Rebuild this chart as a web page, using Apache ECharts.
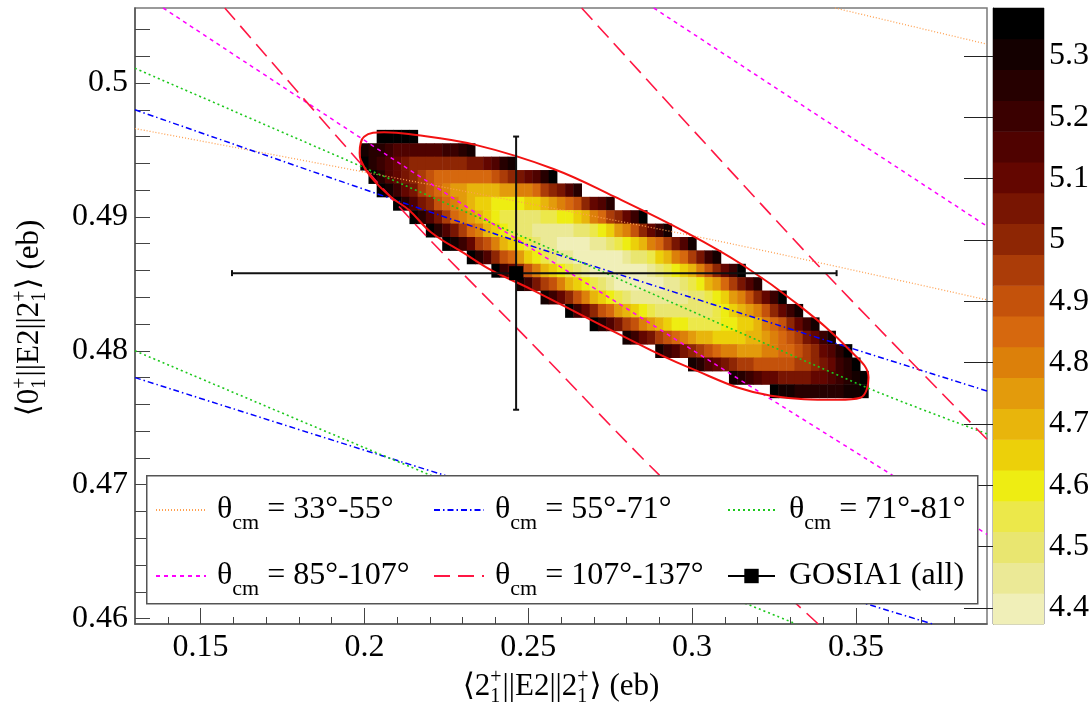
<!DOCTYPE html>
<html>
<head>
<meta charset="utf-8">
<script src="https://cdn.jsdelivr.net/npm/echarts@6/dist/echarts.min.js"></script>
<style>
html, body { margin: 0; padding: 0; background: #fff; }
#main { width: 1092px; height: 705px; }
</style>
</head>
<body>
<div id="main"></div>
<script>
var FONT = '"Liberation Serif", "DejaVu Serif", serif';

// axis ranges and ticks
var xMin = 0.13, xMax = 0.39;
var yMin = 0.4596, yMax = 0.5056;
var xMajor = [0.15, 0.2, 0.25, 0.3, 0.35];
var xMinor = [0.14, 0.16, 0.17, 0.18, 0.19, 0.21, 0.22, 0.23, 0.24, 0.26, 0.27, 0.28, 0.29,
              0.31, 0.32, 0.33, 0.34, 0.36, 0.37, 0.38];
var yLabels = [0.46, 0.47, 0.48, 0.49, 0.5];
var yTicks = [0.46, 0.462, 0.464, 0.466, 0.468, 0.47, 0.472, 0.474, 0.476, 0.478, 0.48, 0.482,
              0.484, 0.486, 0.488, 0.49, 0.492, 0.494, 0.496, 0.498, 0.5, 0.502, 0.504];

// colour scale (bottom -> top)
var zMin = 4.374, zMax = 5.378;
var zTicks = [4.4, 4.5, 4.6, 4.7, 4.8, 4.9, 5, 5.1, 5.2, 5.3];
var levelColors = ['#f0efb8', '#ebe996', '#e9e670', '#ece84a', '#eeed12', '#ecd00a', '#e8b50c',
                   '#e39b0c', '#dc800a', '#d6680e', '#c4520b', '#ab3c08', '#8e2604', '#781502',
                   '#630600', '#4f0200', '#3a0000', '#260000', '#140000', '#000000'];

// chi2 map: one string per row, one char per cell (0-9, a-j = colour level 0..19)
var cellW = 0.0025, cellH = 0.001, cellX0 = 0.2;
var rowY = [0.496, 0.495, 0.494, 0.493, 0.492, 0.491, 0.490, 0.489, 0.488, 0.487,
            0.486, 0.485, 0.484, 0.483, 0.482, 0.481, 0.480, 0.479, 0.478, 0.477];
var rowStart = [2, 0, 0, 1, 2, 4, 6, 8, 10, 13, 16, 19, 22, 25, 28, 32, 36, 40, 45, 50];
var rowLevels = [
  'jjjjj',
  'ihhgffffffgghi',
  'jhgfedcccccccddefhi',
  'jhfedcba9999999abcdefhj',
  'jigedba9877666677889bcdfh',
  'jhfdca9876554444556789acefh',
  'jhfdb9876543322233445689bcegj',
  'jhfdb98654322111112234578acegi',
  'jigeba865432110000112345689bdfi',
  'jhfca9754321100000012235689bdgi',
  'jgeca865432100000001234568acegj',
  'igdba865432100000011234679bdfh',
  'igeca86543211111112234578acegj',
  'jgeca9765432222222345678acegi',
  'jhfdba87654433334455689acegi',
  'igedba98766555566789abdegi',
  'igfdcba9887778899abcefhj',
  'ihfedcbbaaaaabbcdeghj',
  'ihgfeeddddeefghij',
  'jiihhhhhhiij'
];

// constraint bands, each one a pair of lines
var band33a = [[0.3436, 0.5056], [0.39, 0.5029]];
var band33b = [[0.13, 0.4966], [0.30, 0.4886], [0.39, 0.4838]];
var band55a = [[0.13, 0.4980], [0.2476, 0.4881], [0.39, 0.4770]];
var band55b = [[0.13, 0.4780], [0.2246, 0.4707], [0.3734, 0.4596]];
var band71a = [[0.13, 0.5011], [0.2476, 0.4886], [0.3529, 0.4773], [0.39, 0.4738]];
var band71b = [[0.13, 0.4800], [0.2203, 0.4707], [0.3318, 0.4596]];
var band85a = [[0.1386, 0.5056], [0.2423, 0.4890], [0.39, 0.4663]];
var band85b = [[0.2883, 0.5056], [0.39, 0.4893]];
var band107a = [[0.1574, 0.5056], [0.2142, 0.4898], [0.2509, 0.4806], [0.2901, 0.4707], [0.3385, 0.4596]];
var band107b = [[0.2663, 0.5056], [0.3376, 0.4866], [0.39, 0.4734]];

// 1 sigma contour
var contour = [
  [0.19855, 0.49478], [0.1999, 0.49599], [0.2060, 0.49632], [0.21353, 0.49619], [0.23392, 0.49538],
  [0.25774, 0.49358], [0.27645, 0.49149], [0.29859, 0.48879], [0.31558, 0.48639], [0.3326, 0.4834],
  [0.34791, 0.4801], [0.35385, 0.478], [0.35131, 0.4765], [0.34451, 0.47635], [0.32409, 0.47665],
  [0.29859, 0.4788], [0.27645, 0.4814], [0.25094, 0.48459], [0.2387, 0.48602], [0.23052, 0.48727],
  [0.22032, 0.48886], [0.21368, 0.4905], [0.20808, 0.49149], [0.20195, 0.49299], [0.19889, 0.49423],
  [0.19855, 0.49478]
];

// GOSIA1 result: x, y, x low, x high, y low, y high
var gosia = [0.2463, 0.4858, 0.1596, 0.3441, 0.4756, 0.4960];

var names = ['θcm = 33°-55°', 'θcm = 55°-71°', 'θcm = 71°-81°',
             'θcm = 85°-107°', 'θcm = 107°-137°', 'GOSIA1 (all)'];

var heatData = [];
rowLevels.forEach(function (s, r) {
  for (var i = 0; i < s.length; i++) {
    heatData.push([cellX0 + (rowStart[r] + i) * cellW, rowY[r], parseInt(s[i], 20)]);
  }
});

var chart = echarts.init(document.getElementById('main'));

function bandSeries(name, data, color, dash, width) {
  return {
    name: name, type: 'line', data: data, xAxisIndex: 0, yAxisIndex: 0,
    symbol: 'none', smooth: data.length > 2 ? 0.3 : false, clip: true, z: 3,
    itemStyle: { color: color, opacity: 0 },
    lineStyle: { color: color, type: dash, width: width }
  };
}

// text with stacked super/subscripts
var measureCtx = document.createElement('canvas').getContext('2d');
function textW(t, size) {
  measureCtx.font = size + 'px "Liberation Serif"';
  return measureCtx.measureText(t).width;
}
function titleChildren(parts, size, small) {
  var kids = [], x = 0;
  parts.forEach(function (p) {
    if (typeof p === 'string') {
      kids.push({ type: 'text', x: x, y: 0, style: { text: p, fontSize: size, fontFamily: FONT, fill: '#000', verticalAlign: 'middle' } });
      x += textW(p, size);
    } else {
      kids.push({ type: 'text', x: x, y: -size * 0.3, style: { text: p.sup, fontSize: small, fontFamily: FONT, fill: '#000', verticalAlign: 'middle' } });
      kids.push({ type: 'text', x: x, y: size * 0.32, style: { text: p.sub, fontSize: small, fontFamily: FONT, fill: '#000', verticalAlign: 'middle' } });
      x += Math.max(textW(p.sup, small), textW(p.sub, small)) + 1;
    }
  });
  kids.forEach(function (k) { k.x -= x / 2; });
  return kids;
}

var legendPos = [[155, 494], [433, 494], [727, 494], [155, 560], [433, 560], [727, 560]];
var legends = names.map(function (n, i) {
  return {
    data: [n], left: legendPos[i][0], top: legendPos[i][1], orient: 'horizontal',
    padding: 0, itemWidth: i < 5 ? 50 : 47, itemHeight: i < 5 ? 14 : 18, z: 20, selectedMode: false,
    itemStyle: i < 5 ? { opacity: 0 } : { color: '#000' },
    textStyle: {
      padding: [0, 0, 0, i < 5 ? 6 : 9],
      rich: {
        a: { fontSize: 32, fontFamily: FONT, color: '#000', lineHeight: 48 },
        b: { fontSize: 22, fontFamily: FONT, color: '#000', lineHeight: 22, verticalAlign: 'bottom' }
      }
    },
    formatter: function (name) {
      if (name.indexOf('θcm') === 0) {
        return '{a|θ}{b|cm}{a|' + name.slice(3) + '}';
      }
      return '{a|' + name + '}';
    }
  };
});

var option = {
  animation: false,
  backgroundColor: '#fff',
  grid: [
    { left: 135, top: 8, width: 852, height: 616, show: true, borderColor: '#7a7a7a', borderWidth: 1.5, backgroundColor: 'transparent' },
    { left: 993, top: 8, width: 51, height: 616, show: true, borderColor: '#7a7a7a', borderWidth: 1, backgroundColor: 'transparent' }
  ],
  xAxis: [
    {
      gridIndex: 0, type: 'value', min: xMin, max: xMax,
      axisLine: { show: true, lineStyle: { color: '#555', width: 1.5 } },
      axisTick: { show: true, inside: true, length: 16, customValues: xMajor, lineStyle: { color: '#444', width: 1 } },
      axisLabel: { customValues: xMajor, fontFamily: FONT, fontSize: 32, color: '#000', margin: 8,
                   formatter: function (v) { return String(+v.toFixed(2)); } },
      splitLine: { show: false }
    },
    {
      gridIndex: 0, type: 'value', min: xMin, max: xMax, position: 'bottom',
      axisLine: { show: false },
      axisTick: { show: true, inside: true, length: 7, customValues: xMinor, lineStyle: { color: '#444', width: 1 } },
      axisLabel: { show: false }, splitLine: { show: false }
    },
    { gridIndex: 1, type: 'value', min: 0, max: 1, show: false }
  ],
  yAxis: [
    {
      gridIndex: 0, type: 'value', min: yMin, max: yMax,
      axisLine: { show: true, lineStyle: { color: '#555', width: 1.5 } },
      axisTick: { show: true, inside: true, length: 15, customValues: yTicks, lineStyle: { color: '#444', width: 1 } },
      axisLabel: { customValues: yLabels, fontFamily: FONT, fontSize: 32, color: '#000', margin: 7,
                   formatter: function (v) { return String(+v.toFixed(3)); } },
      splitLine: { show: false }
    },
    {
      gridIndex: 1, type: 'value', min: zMin, max: zMax, position: 'right',
      axisLine: { show: true, lineStyle: { color: '#333', width: 1 } },
      axisTick: { show: true, inside: true, length: 29, customValues: zTicks, lineStyle: { color: '#222', width: 1 } },
      axisLabel: { customValues: zTicks, fontFamily: FONT, fontSize: 32, color: '#000', margin: 5,
                   formatter: function (v) { return String(+v.toFixed(1)); } },
      splitLine: { show: false }
    }
  ],
  legend: legends,
  graphic: [
    { type: 'rect', left: 146, top: 475, shape: { width: 831, height: 128 }, z: 10,
      style: { fill: '#fff', stroke: '#555', lineWidth: 1.5 } },
    { type: 'group', x: 561, y: 687, z: 10,
      children: titleChildren(['⟨2', { sup: '+', sub: '1' }, '||E2||2', { sup: '+', sub: '1' }, '⟩ (eb)'], 31, 20) },
    { type: 'group', x: 30, y: 318, rotation: Math.PI / 2, z: 10,
      children: titleChildren(['⟨0', { sup: '+', sub: '1' }, '||E2||2', { sup: '+', sub: '1' }, '⟩ (eb)'], 31, 20) }
  ],
  series: [
    {
      name: 'chi2', type: 'custom', xAxisIndex: 0, yAxisIndex: 0, data: heatData, clip: true, z: 1,
      renderItem: function (params, api) {
        var x = api.value(0), y = api.value(1), lvl = api.value(2);
        var p0 = api.coord([x - cellW / 2, y + cellH / 2]);
        var p1 = api.coord([x + cellW / 2, y - cellH / 2]);
        return { type: 'rect', shape: { x: p0[0], y: p0[1], width: p1[0] - p0[0] + 0.5, height: p1[1] - p0[1] + 0.5 },
                 style: { fill: levelColors[lvl] } };
      }
    },
    bandSeries(names[0], band33a, '#ffa050', [1, 2], 1.3),
    bandSeries(names[0], band33b, '#ffa050', [1, 2], 1.3),
    bandSeries(names[1], band55a, '#0000ff', [6, 3, 1.5, 3], 1.5),
    bandSeries(names[1], band55b, '#0000ff', [6, 3, 1.5, 3], 1.5),
    bandSeries(names[2], band71a, '#1ec81e', [2, 3], 1.6),
    bandSeries(names[2], band71b, '#1ec81e', [2, 3], 1.6),
    bandSeries(names[3], band85a, '#ff00ff', [4, 4], 1.5),
    bandSeries(names[3], band85b, '#ff00ff', [4, 4], 1.5),
    bandSeries(names[4], band107a, '#ff1744', [16, 8], 1.6),
    bandSeries(names[4], band107b, '#ff1744', [16, 8], 1.6),
    {
      name: 'contour', type: 'line', data: contour, xAxisIndex: 0, yAxisIndex: 0, symbol: 'none',
      smooth: 0.4, z: 4, lineStyle: { color: '#f21212', width: 2 }
    },
    {
      name: names[5], type: 'line', data: [[gosia[0], gosia[1]]], xAxisIndex: 0, yAxisIndex: 0,
      symbol: 'rect', symbolSize: 14, z: 6,
      itemStyle: { color: '#000' }, lineStyle: { color: '#000', width: 2 }
    },
    {
      name: 'GOSIA1 errors', type: 'custom', xAxisIndex: 0, yAxisIndex: 0, data: [gosia], z: 5,
      renderItem: function (params, api) {
        var c = api.coord([api.value(0), api.value(1)]);
        var l = api.coord([api.value(2), api.value(1)]);
        var r = api.coord([api.value(3), api.value(1)]);
        var b = api.coord([api.value(0), api.value(4)]);
        var t = api.coord([api.value(0), api.value(5)]);
        var st = { stroke: '#111', lineWidth: 2 };
        return { type: 'group', children: [
          { type: 'line', shape: { x1: l[0], y1: c[1], x2: r[0], y2: c[1] }, style: st },
          { type: 'line', shape: { x1: c[0], y1: t[1], x2: c[0], y2: b[1] }, style: st },
          { type: 'line', shape: { x1: l[0], y1: c[1] - 3, x2: l[0], y2: c[1] + 3 }, style: st },
          { type: 'line', shape: { x1: r[0], y1: c[1] - 3, x2: r[0], y2: c[1] + 3 }, style: st },
          { type: 'line', shape: { x1: c[0] - 3, y1: t[1], x2: c[0] + 3, y2: t[1] }, style: st },
          { type: 'line', shape: { x1: c[0] - 3, y1: b[1], x2: c[0] + 3, y2: b[1] }, style: st }
        ] };
      }
    },
    {
      name: 'palette', type: 'custom', xAxisIndex: 2, yAxisIndex: 1, z: 1,
      data: levelColors.map(function (c, i) { return [i]; }),
      renderItem: function (params, api) {
        var i = api.value(0), step = (zMax - zMin) / levelColors.length;
        var p0 = api.coord([0, zMin + (i + 1) * step]);
        var p1 = api.coord([1, zMin + i * step]);
        return { type: 'rect', shape: { x: p0[0], y: p0[1], width: p1[0] - p0[0], height: p1[1] - p0[1] + 0.5 },
                 style: { fill: levelColors[i] } };
      }
    }
  ]
};
chart.setOption(option);
</script>
</body>
</html>
